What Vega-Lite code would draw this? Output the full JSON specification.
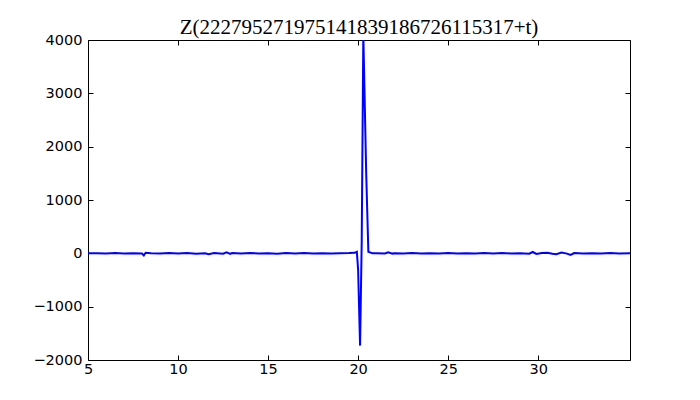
{
  "$schema": "https://vega.github.io/schema/vega-lite/v6.json",
  "width": 542,
  "height": 320,
  "autosize": {"type": "none"},
  "padding": {"left": 88, "top": 40, "right": 70, "bottom": 40},
  "background": "white",
  "config": {
    "view": {"stroke": "black", "strokeWidth": 1},
    "axis": {
      "grid": false,
      "domain": false,
      "tickColor": "black",
      "tickSize": -5,
      "labelFont": "DejaVu Sans",
      "labelFontSize": 14.5,
      "labelColor": "black",
      "labelFlush": false,
      "labelOverlap": false,
      "format": "d",
      "title": null
    }
  },
  "title": {
    "text": "Z(222795271975141839186726115317+t)",
    "font": "Liberation Serif",
    "fontSize": 21,
    "fontWeight": "normal",
    "color": "black",
    "anchor": "middle",
    "offset": -6
  },
  "data": {
    "values": [
      {"t": 5, "z": 0}, {"t": 5.5, "z": 2}, {"t": 6, "z": -3}, {"t": 6.5, "z": 4},
      {"t": 7, "z": -2}, {"t": 7.5, "z": 3}, {"t": 8, "z": -5}, {"t": 8.1, "z": -40},
      {"t": 8.2, "z": 12}, {"t": 8.5, "z": 3}, {"t": 9, "z": -4}, {"t": 9.5, "z": 5},
      {"t": 10, "z": -2}, {"t": 10.5, "z": 4}, {"t": 11, "z": -6}, {"t": 11.5, "z": 3},
      {"t": 11.7, "z": -15}, {"t": 12, "z": 5}, {"t": 12.5, "z": -8}, {"t": 12.7, "z": 20},
      {"t": 12.9, "z": -10}, {"t": 13, "z": 8}, {"t": 13.5, "z": -4}, {"t": 14, "z": 6},
      {"t": 14.5, "z": -3}, {"t": 15, "z": 2}, {"t": 15.5, "z": -6}, {"t": 16, "z": 4},
      {"t": 16.5, "z": -3}, {"t": 17, "z": 5}, {"t": 17.5, "z": -2}, {"t": 18, "z": 3},
      {"t": 18.5, "z": -4}, {"t": 19, "z": 2}, {"t": 19.5, "z": 5}, {"t": 19.8, "z": 10},
      {"t": 19.93, "z": 30}, {"t": 20.0, "z": -300}, {"t": 20.11, "z": -1730},
      {"t": 20.2, "z": 200}, {"t": 20.29, "z": 4100}, {"t": 20.45, "z": 1500},
      {"t": 20.57, "z": 30}, {"t": 20.8, "z": 0}, {"t": 21, "z": 3}, {"t": 21.5, "z": -2},
      {"t": 21.67, "z": 20}, {"t": 21.9, "z": -5}, {"t": 22, "z": 2}, {"t": 22.5, "z": -3},
      {"t": 23, "z": 4}, {"t": 23.5, "z": -2}, {"t": 24, "z": 3}, {"t": 24.5, "z": -4},
      {"t": 25, "z": 5}, {"t": 25.5, "z": -3}, {"t": 26, "z": 2}, {"t": 26.5, "z": -5},
      {"t": 27, "z": 4}, {"t": 27.5, "z": -2}, {"t": 28, "z": 6}, {"t": 28.5, "z": -4},
      {"t": 29, "z": 3}, {"t": 29.5, "z": -8}, {"t": 29.7, "z": 25}, {"t": 29.9, "z": -12},
      {"t": 30.2, "z": 6}, {"t": 30.5, "z": 10}, {"t": 30.8, "z": -8}, {"t": 31, "z": -15},
      {"t": 31.3, "z": 15}, {"t": 31.6, "z": -5}, {"t": 31.8, "z": -30}, {"t": 32, "z": 5},
      {"t": 32.5, "z": -4}, {"t": 33, "z": 3}, {"t": 33.5, "z": -2}, {"t": 34, "z": 4},
      {"t": 34.5, "z": -3}, {"t": 35.1, "z": 0}
    ]
  },
  "layer": [
    {
      "mark": {"type": "line", "color": "#0000ff", "strokeWidth": 2, "clip": true},
      "encoding": {
        "x": {"field": "t", "type": "quantitative", "scale": {"domain": [5, 35.1], "nice": false, "zero": false},
              "axis": {"orient": "bottom", "values": [5, 10, 15, 20, 25, 30], "labelPadding": 7}},
        "y": {"field": "z", "type": "quantitative", "scale": {"domain": [-2000, 4000], "nice": false},
              "axis": {"orient": "left", "values": [-2000, -1000, 0, 1000, 2000, 3000, 4000], "labelPadding": 11}}
      }
    },
    {
      "mark": {"type": "line", "opacity": 0, "clip": true},
      "encoding": {
        "x": {"field": "t", "type": "quantitative",
              "axis": {"orient": "top", "values": [5, 10, 15, 20, 25, 30], "labels": false}},
        "y": {"field": "z", "type": "quantitative",
              "axis": {"orient": "right", "values": [-2000, -1000, 0, 1000, 2000, 3000, 4000], "labels": false}}
      }
    }
  ],
  "resolve": {"axis": {"x": "independent", "y": "independent"}}
}
